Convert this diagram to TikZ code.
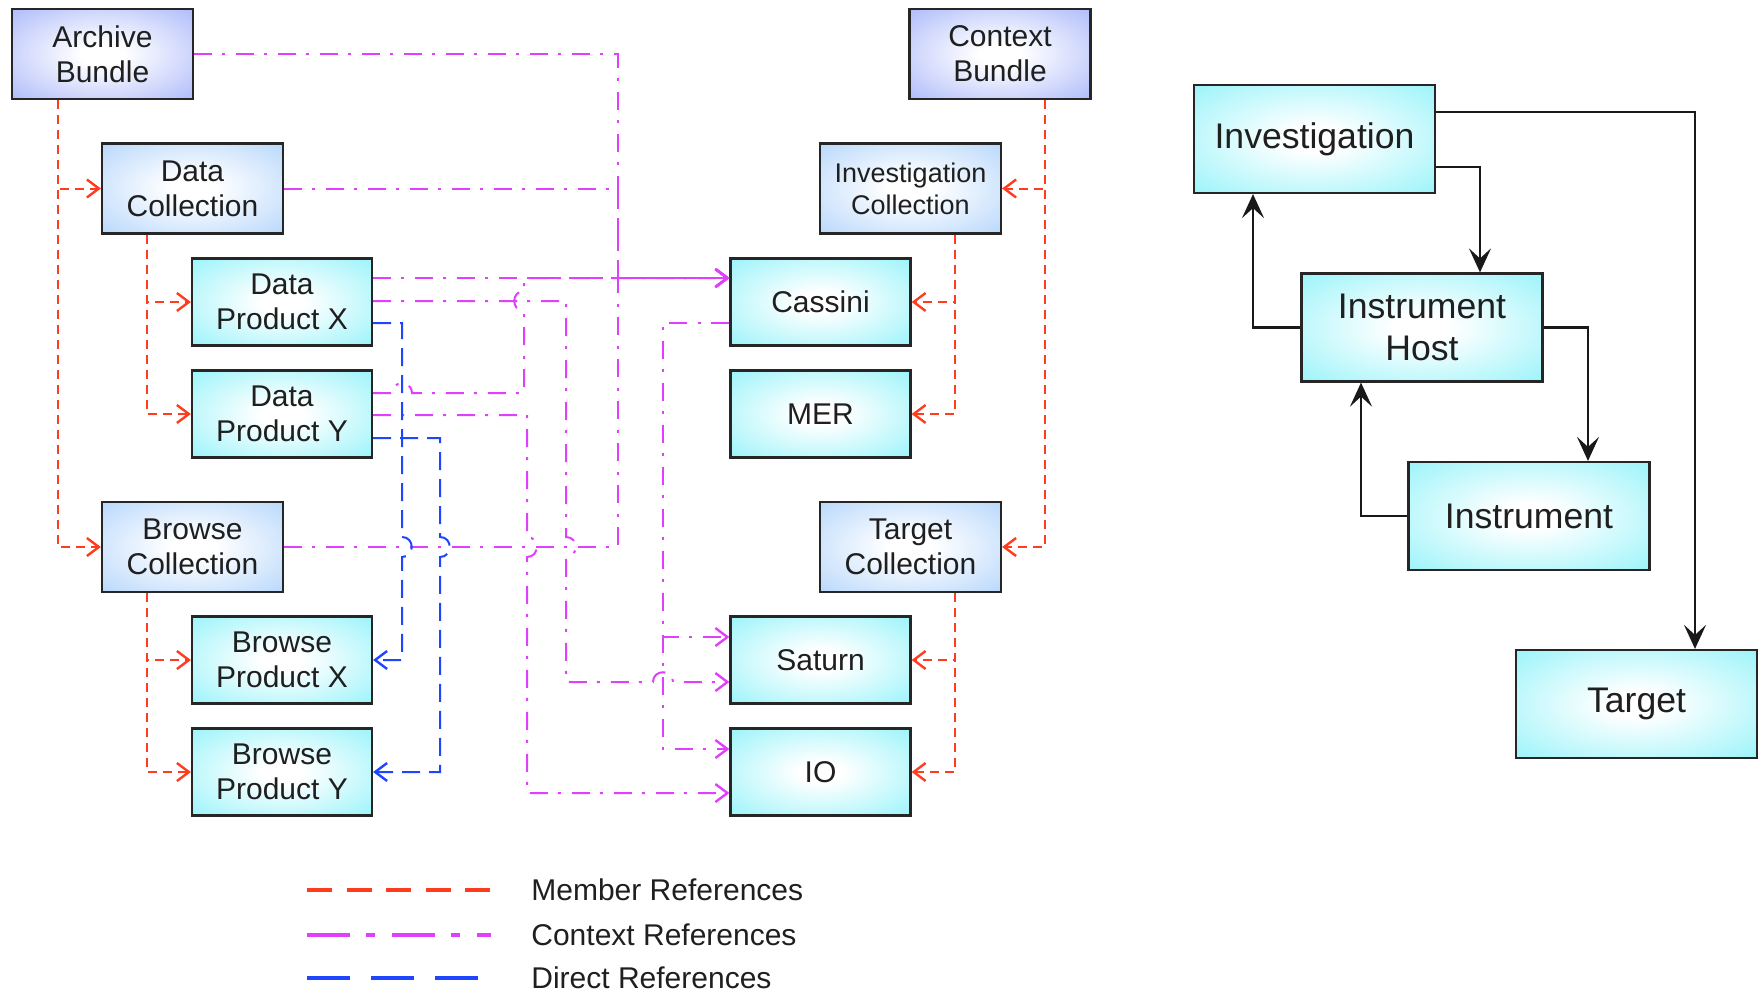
\documentclass[tikz,border=0pt]{standalone}
\usepackage{fontspec}
\setmainfont{Liberation Sans}
\usetikzlibrary{arrows.meta,calc}
\definecolor{bundlec}{RGB}{146,164,248}
\definecolor{collc}{RGB}{160,202,250}
\definecolor{prodc}{RGB}{120,240,248}
\definecolor{memc}{RGB}{255,60,30}
\definecolor{ctxc}{RGB}{224,64,251}
\definecolor{dirc}{RGB}{30,70,255}
\pgfdeclareradialshading{bundleshade}{\pgfpoint{0bp}{0bp}}{color(0bp)=(white); color(6bp)=(white); color(46bp)=(bundlec); color(100bp)=(bundlec)}
\pgfdeclareradialshading{collshade}{\pgfpoint{0bp}{0bp}}{color(0bp)=(white); color(6bp)=(white); color(46bp)=(collc); color(100bp)=(collc)}
\pgfdeclareradialshading{prodshade}{\pgfpoint{0bp}{0bp}}{color(0bp)=(white); color(6bp)=(white); color(46bp)=(prodc); color(100bp)=(prodc)}
\tikzset{
  bx/.style={draw=black!85, line width=1.1pt, align=center, text=black!88, inner sep=0pt, shade, font=\fontsize{15}{17.4}\selectfont},
  bundle/.style={bx, shading=bundleshade, minimum width=90.5pt, minimum height=45pt},
  coll/.style={bx, shading=collshade, minimum width=90.5pt, minimum height=45pt},
  prod/.style={bx, shading=prodshade, minimum width=90pt, minimum height=43.5pt},
  big/.style={bx, shading=prodshade, minimum width=120.5pt, minimum height=54pt, font=\fontsize{17.8}{21}\selectfont},
  barb/.style={-{Straight Barb[length=6pt,width=9pt,line width=1.2pt]}},
  mem/.style={draw=memc, line width=1pt, dash pattern=on 4.5pt off 3pt, barb},
  ctx/.style={draw=ctxc, line width=1pt, dash pattern=on 9pt off 5pt on 1.5pt off 5.5pt},
  ctxa/.style={ctx, barb},
  dira/.style={draw=dirc, line width=1pt, dash pattern=on 9pt off 4.5pt, barb},
  rel/.style={draw=black!90, line width=1.25pt, -{Stealth[length=12pt,width=11pt,inset=5pt]}},
  legtext/.style={anchor=west, inner sep=0pt, text=black!88, font=\fontsize{15}{17.4}\selectfont},
}
\begin{document}
\begin{tikzpicture}[x=0.5pt,y=-0.5pt]
\useasboundingbox (0,0) rectangle (1758,992);
% left tree
\node[bundle] (AB) at (102.5,54) {Archive\\Bundle};
\node[coll] (DC) at (192.5,188.5) {Data\\Collection};
\node[prod] (DPX) at (282,302) {Data\\Product X};
\node[prod] (DPY) at (282,414) {Data\\Product Y};
\node[coll] (BC) at (192.5,547) {Browse\\Collection};
\node[prod] (BPX) at (282,660) {Browse\\Product X};
\node[prod] (BPY) at (282,772) {Browse\\Product Y};
% right tree
\node[bundle] (CB) at (1000,54) {Context\\Bundle};
\node[coll, font=\fontsize{13.5}{16}\selectfont] (IC) at (910.5,188.5) {Investigation\\Collection};
\node[prod] (CAS) at (820.5,302) {Cassini};
\node[prod] (MER) at (820.5,414) {MER};
\node[coll] (TC) at (910.5,547) {Target\\Collection};
\node[prod] (SAT) at (820.5,660) {Saturn};
\node[prod] (IO) at (820.5,772) {IO};
% model
\node[big] (INV) at (1314.5,139) {Investigation};
\node[big] (IH) at (1422,327.5) {Instrument\\Host};
\node[big] (INS) at (1529,516) {Instrument};
\node[big] (TGT) at (1636.5,704) {Target};

% member references
\draw[mem] (AB.south -| 58,0) |- (DC.west);
\draw[mem] (AB.south -| 58,0) |- (BC.west);
\draw[mem] (DC.south -| 147,0) |- (DPX.west);
\draw[mem] (DC.south -| 147,0) |- (DPY.west);
\draw[mem] (BC.south -| 147,0) |- (BPX.west);
\draw[mem] (BC.south -| 147,0) |- (BPY.west);
\draw[mem] (CB.south -| 1045,0) |- (IC.east);
\draw[mem] (CB.south -| 1045,0) |- (TC.east);
\draw[mem] (IC.south -| 955,0) |- (CAS.east);
\draw[mem] (IC.south -| 955,0) |- (MER.east);
\draw[mem] (TC.south -| 955,0) |- (SAT.east);
\draw[mem] (TC.south -| 955,0) |- (IO.east);

% context references
\draw[ctxa] (AB.east) -- (618,54) -- (618,278) -- (CAS.west |- 0,278);
\draw[ctxa] (DC.east) -- (618,188.5) -- (618,278) -- (CAS.west |- 0,278);
\draw[ctxa] (BC.east) -- (618,547) -- (618,278) -- (CAS.west |- 0,278);
\draw[ctxa] (DPX.east |- 0,278) -- (CAS.west |- 0,278);
\draw[ctxa] (DPY.east |- 0,393) -- (392,393) .. controls (392,380) and (412,380) .. (412,393) -- (524,393) -- (524,311) .. controls (511,311) and (511,291) .. (524,291) -- (524,278) -- (CAS.west |- 0,278);
\draw[ctxa] (DPX.east |- 0,301) -- (566,301) -- (566,537) .. controls (579,537) and (579,557) .. (566,557) -- (566,682) -- (653,682) .. controls (653,669) and (673,669) .. (673,682) -- (SAT.west |- 0,682);
\draw[ctxa] (DPY.east |- 0,415) -- (527,415) -- (527,537) .. controls (540,537) and (540,557) .. (527,557) -- (527,793) -- (IO.west |- 0,793);
\draw[ctxa] (CAS.west |- 0,323) -- (663,323) -- (663,637) -- (SAT.west |- 0,637);
\draw[ctxa] (CAS.west |- 0,323) -- (663,323) -- (663,749) -- (IO.west |- 0,749);

% direct references
\draw[dira] (DPX.east |- 0,323) -- (402,323) -- (402,537) .. controls (415,537) and (415,557) .. (402,557) -- (402,660) -- (BPX.east);
\draw[dira] (DPY.east |- 0,438) -- (440,438) -- (440,537) .. controls (453,537) and (453,557) .. (440,557) -- (440,772) -- (BPY.east);

% model relations
\draw[rel] (INV.east |- 0,112) -| (TGT.north -| 1695,0);
\draw[rel] (INV.east |- 0,167) -| (IH.north -| 1480,0);
\draw[rel] (IH.west) -| (INV.south -| 1253,0);
\draw[rel] (IH.east) -| (INS.north -| 1588,0);
\draw[rel] (INS.west) -| (IH.south -| 1361,0);

% legend
\coordinate (m1) at (307,890); \coordinate (m2) at (491,890);
\coordinate (c1) at (307,935); \coordinate (c2) at (491,935);
\coordinate (d1) at (307,978); \coordinate (d2) at (481,978);
\draw[draw=memc, line width=2pt, dash pattern=on 12.5pt off 7.3pt] (m1) -- (m2);
\draw[draw=ctxc, line width=2pt, dash pattern=on 21.5pt off 8pt on 4.5pt off 8.5pt] (c1) -- (c2);
\draw[draw=dirc, line width=2pt, dash pattern=on 21.5pt off 10.5pt] (d1) -- (d2);
\node[legtext] (lm) at (531,890) {Member References};
\node[legtext] (lc) at (531,935) {Context References};
\node[legtext] (ld) at (531,978) {Direct References};
\end{tikzpicture}
\end{document}
